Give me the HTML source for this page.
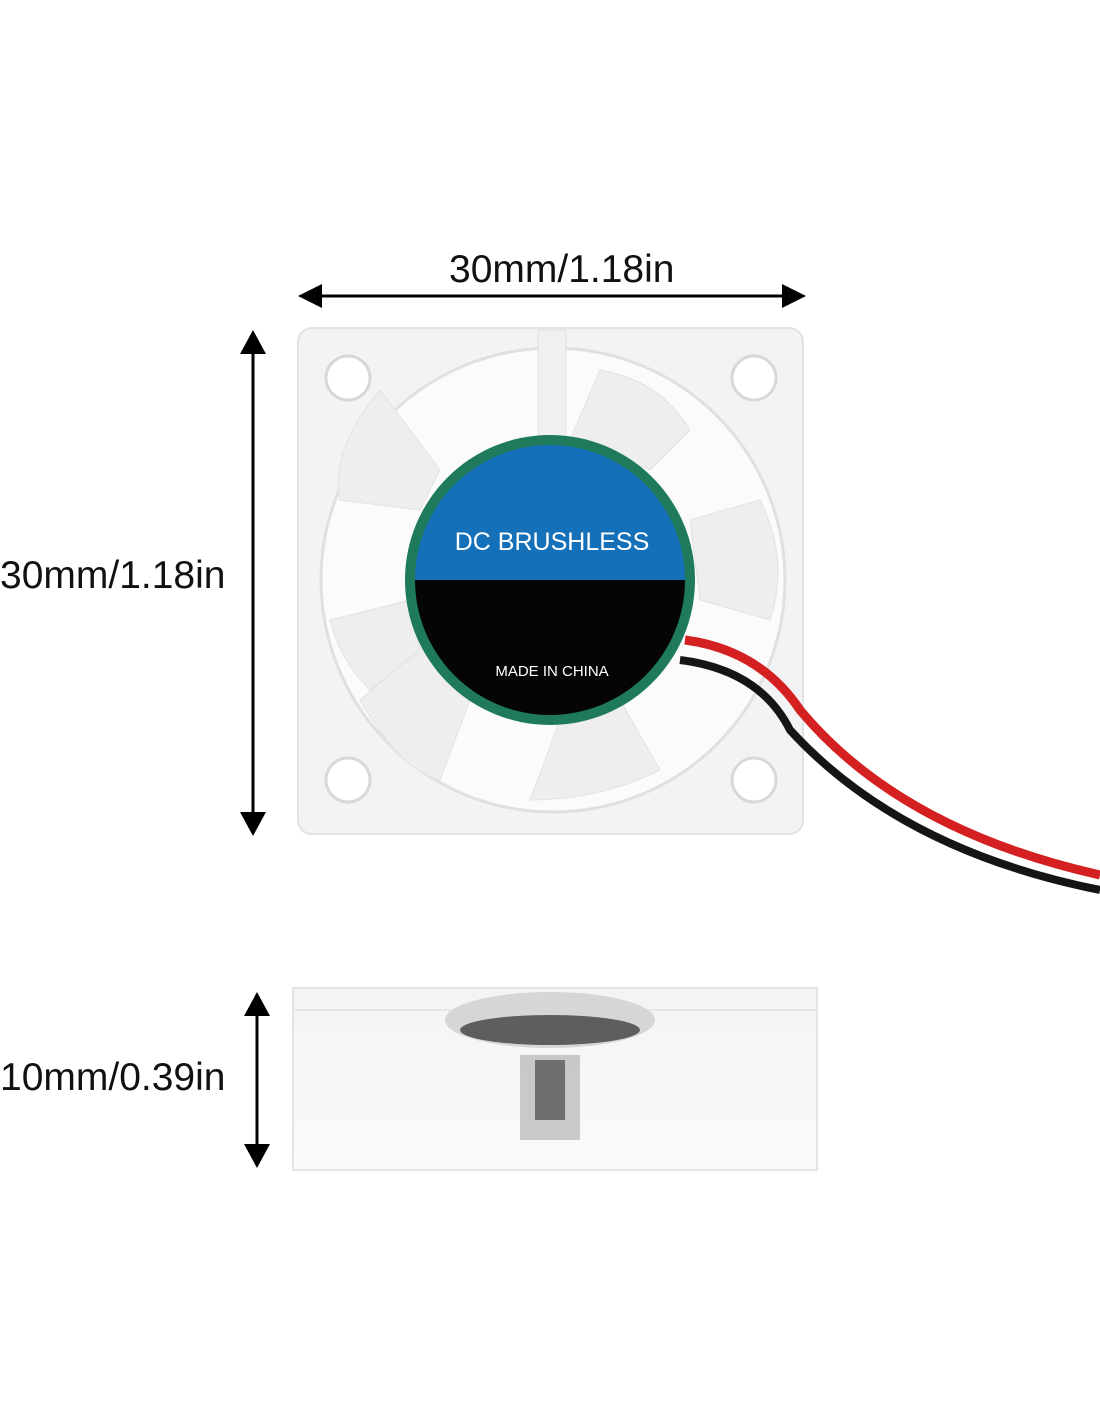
<!DOCTYPE html>
<html><head><meta charset="utf-8"><style>
html,body{margin:0;padding:0;background:#fff;}
body{width:1100px;height:1422px;position:relative;overflow:hidden;font-family:"Liberation Sans",sans-serif;}
.t{position:absolute;font-size:39px;color:#111;white-space:nowrap;line-height:1;}
</style></head><body>
<div class="t" style="left:449px;top:250px;">30mm/1.18in</div>
<div class="t" style="left:0px;top:556px;">30mm/1.18in</div>
<div class="t" style="left:0px;top:1058px;">10mm/0.39in</div>
<svg width="1100" height="1422" style="position:absolute;left:0;top:0">
<defs>
<linearGradient id="side" x1="0" y1="0" x2="0" y2="1"><stop offset="0" stop-color="#f4f4f4"/><stop offset="1" stop-color="#fafafa"/></linearGradient>
</defs>
<line x1="315" y1="296" x2="790" y2="296" stroke="#000" stroke-width="3"/>
<polygon points="298,296 322,284 322,308" fill="#000"/>
<polygon points="806,296 782,284 782,308" fill="#000"/>
<line x1="253" y1="350" x2="253" y2="818" stroke="#000" stroke-width="3"/>
<polygon points="253,330 240,354 266,354" fill="#000"/>
<polygon points="253,836 240,812 266,812" fill="#000"/>
<line x1="257" y1="1010" x2="257" y2="1150" stroke="#000" stroke-width="3"/>
<polygon points="257,992 244,1016 270,1016" fill="#000"/>
<polygon points="257,1168 244,1144 270,1144" fill="#000"/>
<rect x="298" y="328" width="505" height="506" rx="14" fill="#f3f3f3" stroke="#e2e2e2" stroke-width="2"/>
<circle cx="553" cy="580" r="232" fill="#fbfbfb" stroke="#e0e0e0" stroke-width="3"/>
<circle cx="348" cy="378" r="22" fill="#fff" stroke="#d8d8d8" stroke-width="3"/>
<circle cx="754" cy="378" r="22" fill="#fff" stroke="#d8d8d8" stroke-width="3"/>
<circle cx="348" cy="780" r="22" fill="#fff" stroke="#d8d8d8" stroke-width="3"/>
<circle cx="754" cy="780" r="22" fill="#fff" stroke="#d8d8d8" stroke-width="3"/>
<rect x="538" y="330" width="28" height="110" fill="#f0f0f0" stroke="#e0e0e0"/>
<g fill="#eeeeee" stroke="#e2e2e2">
<path d="M570,440 L600,370 Q660,380 690,430 L650,470 Z"/>
<path d="M690,520 L760,500 Q790,560 770,620 L700,600 Z"/>
<path d="M420,510 L340,500 Q330,450 380,390 L440,470 Z"/>
<path d="M430,640 L360,700 Q400,770 440,780 L470,700 Z"/>
<path d="M560,720 L530,800 Q600,800 660,770 L620,700 Z"/>
<path d="M410,600 L330,620 Q340,660 370,690 L420,650 Z"/>
</g>
<path d="M685,640 Q760,650 800,710 Q900,830 1100,875" fill="none" stroke="#d42020" stroke-width="9"/>
<path d="M680,660 Q760,670 790,730 Q900,850 1100,890" fill="none" stroke="#151515" stroke-width="8"/>
<circle cx="550" cy="580" r="145" fill="#1e7a5a"/>
<clipPath id="hc"><circle cx="550" cy="580" r="135"/></clipPath>
<g clip-path="url(#hc)">
<rect x="400" y="430" width="300" height="150" fill="#1470b8"/>
<rect x="400" y="580" width="300" height="160" fill="#050505"/>
</g>
<text x="552" y="550" fill="#fff" font-size="25" text-anchor="middle" font-family="Liberation Sans">DC BRUSHLESS</text>
<text x="552" y="676" fill="#fff" font-size="15" text-anchor="middle" font-family="Liberation Sans">MADE IN CHINA</text>
<rect x="293" y="988" width="524" height="182" fill="url(#side)" stroke="#e4e4e4" stroke-width="2"/>
<line x1="293" y1="1010" x2="817" y2="1010" stroke="#e6e6e6" stroke-width="2"/>
<ellipse cx="550" cy="1020" rx="105" ry="28" fill="#d6d6d6"/>
<ellipse cx="550" cy="1030" rx="90" ry="15" fill="#2b2b2b" opacity="0.7"/>
<rect x="520" y="1055" width="60" height="85" fill="#bdbdbd" opacity="0.8"/>
<rect x="535" y="1060" width="30" height="60" fill="#333" opacity="0.6"/>
</svg>
</body></html>
